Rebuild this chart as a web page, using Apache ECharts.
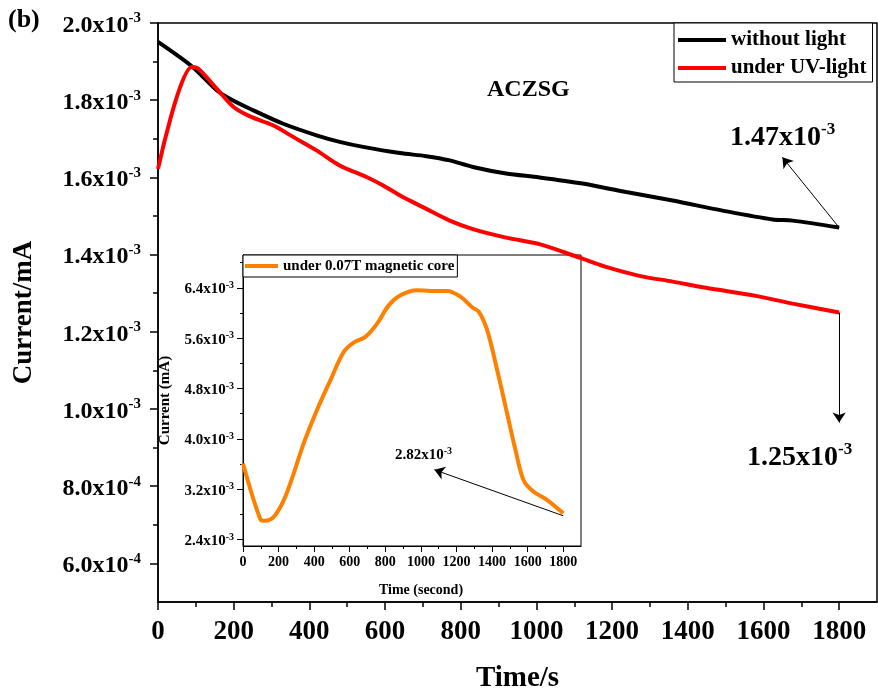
<!DOCTYPE html>
<html>
<head>
<meta charset="utf-8">
<script src="https://cdn.jsdelivr.net/npm/echarts@6/dist/echarts.min.js"></script>
<style>
  html, body { margin: 0; padding: 0; background: #fff; }
  #chart { width: 878px; height: 694px; }
</style>
</head>
<body>
<div id="chart"></div>
<script>
// Photocurrent of ACZSG versus time (s); current in mA.
const timeDark = [0, 89, 155, 190, 243, 331, 419, 480, 542, 639, 709, 771, 832, 920, 1008, 1122, 1237, 1360, 1492, 1624, 1677, 1800];
const currentDark = [1.951e-3, 1.888e-3, 1.826e-3, 1.804e-3, 1.778e-3, 1.739e-3, 1.709e-3, 1.692e-3, 1.679e-3, 1.663e-3, 1.655e-3,
  1.644e-3, 1.627e-3, 1.610e-3, 1.600e-3, 1.584e-3, 1.562e-3, 1.540e-3, 1.514e-3, 1.491e-3, 1.488e-3, 1.470e-3];

const timeUV = [0, 89, 106, 155, 199, 243, 304, 357, 419, 480, 551, 595, 647, 700, 771, 832, 920, 1008, 1114, 1184, 1272, 1360, 1448, 1580, 1677, 1800];
const currentUV = [1.622e-3, 1.886e-3, 1.882e-3, 1.830e-3, 1.783e-3, 1.758e-3, 1.735e-3, 1.705e-3, 1.670e-3, 1.631e-3, 1.601e-3,
  1.579e-3, 1.549e-3, 1.523e-3, 1.488e-3, 1.466e-3, 1.444e-3, 1.427e-3, 1.392e-3, 1.368e-3, 1.345e-3, 1.330e-3, 1.314e-3,
  1.293e-3, 1.273e-3, 1.250e-3];

// Inset: current under a 0.07 T magnetic core
const timeMag = [0, 97, 125, 172, 228, 285, 341, 416, 491, 566, 622, 688, 754, 819, 885, 979, 1053, 1147, 1222, 1288, 1325, 1372, 1429, 1485, 1532, 1578, 1634, 1710, 1800];
const currentMag = [3.61e-3, 2.73e-3, 2.70e-3, 2.76e-3, 3.02e-3, 3.45e-3, 3.93e-3, 4.46e-3, 4.93e-3, 5.38e-3, 5.53e-3, 5.62e-3,
  5.83e-3, 6.12e-3, 6.28e-3, 6.36e-3, 6.35e-3, 6.35e-3, 6.26e-3, 6.09e-3, 6.02e-3, 5.73e-3, 5.09e-3, 4.40e-3, 3.82e-3,
  3.34e-3, 3.16e-3, 3.03e-3, 2.82e-3];

// Axis ticks
const xTicks = [0, 200, 400, 600, 800, 1000, 1200, 1400, 1600, 1800];
const xMinorTicks = [100, 300, 500, 700, 900, 1100, 1300, 1500, 1700];
const mainYTicks = [0.6e-3, 0.8e-3, 1.0e-3, 1.2e-3, 1.4e-3, 1.6e-3, 1.8e-3, 2.0e-3];
const mainYMinorTicks = [0.7e-3, 0.9e-3, 1.1e-3, 1.3e-3, 1.5e-3, 1.7e-3, 1.9e-3];
const insetYTicks = [2.4e-3, 3.2e-3, 4.0e-3, 4.8e-3, 5.6e-3, 6.4e-3];
const insetYMinorTicks = [2.8e-3, 3.6e-3, 4.4e-3, 5.2e-3, 6.0e-3, 6.8e-3];

// Final values called out next to the curves
const endDark = currentDark[currentDark.length - 1];
const endUV = currentUV[currentUV.length - 1];
const endMag = currentMag[currentMag.length - 1];

const FONT = 'Liberation Serif';
const zip = (xs, ys) => xs.map((x, i) => [x, ys[i]]);

// "1.8x10^-3" style text, mantissa with given decimals
function sci(v, digits) {
  const e = Math.floor(Math.log10(Math.abs(v)) + 1e-9);
  const m = v / Math.pow(10, e);
  return { m: m.toFixed(digits), e: String(e) };
}
function sciRich(v, digits) {
  const s = sci(v, digits);
  return '{m|' + s.m + 'x10}{s|' + s.e + '}';
}
function richStyle(big, small, lift) {
  return {
    m: { fontSize: big, fontWeight: 'bold', fontFamily: FONT, color: '#000', lineHeight: big, padding: [lift, 0, 0, 0] },
    s: { fontSize: small, fontWeight: 'bold', fontFamily: FONT, color: '#000', lineHeight: small, verticalAlign: 'top' }
  };
}

const chart = echarts.init(document.getElementById('chart'), null, { renderer: 'canvas' });

const arrowLine = {
  silent: true,
  symbol: ['none', 'arrow'],
  symbolSize: 10,
  label: { show: false },
  lineStyle: { color: '#000', width: 1, type: 'solid' },
  emphasis: { disabled: true },
  animation: false
};

const plainNumber = v => String(Math.round(v));

const option = {
  animation: false,
  backgroundColor: '#fff',
  grid: [
    { left: 158, top: 23, right: 1, bottom: 92, show: true, borderColor: '#000', borderWidth: 1.5,
      backgroundColor: 'transparent', containLabel: false, outerBoundsMode: 'none' },
    { left: 243, top: 255, width: 338, height: 291, show: true, borderColor: '#000', borderWidth: 1,
      backgroundColor: '#fff', containLabel: false, outerBoundsMode: 'none' }
  ],
  xAxis: [
    {
      gridIndex: 0, type: 'value', min: 0, max: 1900, position: 'bottom',
      axisLine: { lineStyle: { color: '#000', width: 1.5 } },
      axisTick: { customValues: xTicks, length: 8, lineStyle: { color: '#000', width: 1.5 } },
      axisLabel: { customValues: xTicks, formatter: plainNumber, fontSize: 27, fontWeight: 'bold', fontFamily: FONT, color: '#000', margin: 17 },
      splitLine: { show: false },
      name: 'Time/s', nameLocation: 'middle', nameGap: 62,
      nameTextStyle: { fontSize: 29, fontWeight: 'bold', fontFamily: FONT, color: '#000' }
    },
    {
      gridIndex: 0, type: 'value', min: 0, max: 1900, position: 'bottom',
      axisLine: { show: false },
      axisTick: { customValues: xMinorTicks, length: 5, lineStyle: { color: '#000', width: 1.5 } },
      axisLabel: { show: false }, splitLine: { show: false }
    },
    {
      gridIndex: 1, type: 'value', min: 0, max: 1900, position: 'bottom',
      axisLine: { lineStyle: { color: '#000', width: 1 } },
      axisTick: { customValues: xTicks, length: 6, lineStyle: { color: '#000', width: 1 } },
      axisLabel: { customValues: xTicks, formatter: plainNumber, fontSize: 14, fontWeight: 'bold', fontFamily: FONT, color: '#000', margin: 9 },
      splitLine: { show: false },
      name: 'Time (second)', nameLocation: 'middle', nameGap: 37,
      nameTextStyle: { fontSize: 14, fontWeight: 'bold', fontFamily: FONT, color: '#000', padding: [0, 0, 0, 18] }
    },
    {
      gridIndex: 1, type: 'value', min: 0, max: 1900, position: 'bottom',
      axisLine: { show: false },
      axisTick: { customValues: xMinorTicks, length: 3, lineStyle: { color: '#000', width: 1 } },
      axisLabel: { show: false }, splitLine: { show: false }
    }
  ],
  yAxis: [
    {
      gridIndex: 0, type: 'value', min: 0.5e-3, max: 2.0e-3, position: 'left',
      axisLine: { lineStyle: { color: '#000', width: 1.5 } },
      axisTick: { customValues: mainYTicks, length: 8, lineStyle: { color: '#000', width: 1.5 } },
      axisLabel: {
        customValues: mainYTicks, margin: 17,
        formatter: v => sciRich(v, 1),
        rich: richStyle(24, 15, 5)
      },
      splitLine: { show: false },
      name: 'Current/mA', nameLocation: 'middle', nameGap: 120, nameRotate: 90,
      nameTextStyle: { fontSize: 27, fontWeight: 'bold', fontFamily: FONT, color: '#000' }
    },
    {
      gridIndex: 0, type: 'value', min: 0.5e-3, max: 2.0e-3, position: 'left',
      axisLine: { show: false },
      axisTick: { customValues: mainYMinorTicks, length: 5, lineStyle: { color: '#000', width: 1.5 } },
      axisLabel: { show: false }, splitLine: { show: false }
    },
    {
      gridIndex: 1, type: 'value', min: 2.3e-3, max: 6.92e-3, position: 'left',
      axisLine: { lineStyle: { color: '#000', width: 1 } },
      axisTick: { customValues: insetYTicks, length: 6, lineStyle: { color: '#000', width: 1 } },
      axisLabel: {
        customValues: insetYTicks, margin: 9,
        formatter: v => sciRich(v, 1),
        rich: richStyle(15, 10, 3)
      },
      splitLine: { show: false },
      name: 'Current (mA)', nameLocation: 'middle', nameGap: 70, nameRotate: 90,
      nameTextStyle: { fontSize: 15, fontWeight: 'bold', fontFamily: FONT, color: '#000' }
    },
    {
      gridIndex: 1, type: 'value', min: 2.3e-3, max: 6.92e-3, position: 'left',
      axisLine: { show: false },
      axisTick: { customValues: insetYMinorTicks, length: 3, lineStyle: { color: '#000', width: 1 } },
      axisLabel: { show: false }, splitLine: { show: false }
    }
  ],
  legend: [
    {
      data: ['without light', 'under UV-light'], orient: 'vertical', left: 674, top: 23,
      icon: 'rect', itemWidth: 48, itemHeight: 4, itemGap: 6, selectedMode: false,
      borderColor: '#000', borderWidth: 1, padding: [6, 6, 3, 4], backgroundColor: '#fff',
      textStyle: { fontSize: 21, fontWeight: 'bold', fontFamily: FONT, color: '#000', lineHeight: 22 }
    },
    {
      data: ['under 0.07T magnetic core'], orient: 'horizontal', left: 243, top: 255,
      icon: 'rect', itemWidth: 33, itemHeight: 4, selectedMode: false,
      borderColor: '#000', borderWidth: 1, padding: [3, 3, 3, 2], backgroundColor: '#fff',
      textStyle: { fontSize: 15, fontWeight: 'bold', fontFamily: FONT, color: '#000', lineHeight: 16 }
    }
  ],
  series: [
    {
      name: 'without light', type: 'line', xAxisIndex: 0, yAxisIndex: 0,
      data: zip(timeDark, currentDark), showSymbol: false, smooth: 0.3,
      color: '#000', lineStyle: { color: '#000', width: 4 },
      markLine: Object.assign({ data: [[{ coord: [1800, endDark] }, { coord: [1650, 1.652e-3] }]] }, arrowLine)
    },
    {
      name: 'under UV-light', type: 'line', xAxisIndex: 0, yAxisIndex: 0,
      data: zip(timeUV, currentUV), showSymbol: false, smooth: 0.3,
      color: '#ff0000', lineStyle: { color: '#ff0000', width: 4 },
      markLine: Object.assign({ data: [[{ coord: [1800, endUV] }, { coord: [1800, 0.965e-3] }]] }, arrowLine)
    },
    {
      name: 'under 0.07T magnetic core', type: 'line', xAxisIndex: 2, yAxisIndex: 2,
      data: zip(timeMag, currentMag), showSymbol: false, smooth: 0.35,
      color: '#ff8000', lineStyle: { color: '#ff8000', width: 4 },
      markLine: Object.assign({ data: [[{ coord: [1800, endMag - 0.04e-3] }, { coord: [1076, 3.51e-3] }]] }, arrowLine)
    }
  ],
  graphic: [
    { type: 'text', left: 8, top: 7, style: { text: '(b)', fontSize: 26, fontWeight: 'bold', fontFamily: FONT, fill: '#000' } },
    { type: 'text', left: 487, top: 78, style: { text: 'ACZSG', fontSize: 24, fontWeight: 'bold', fontFamily: FONT, fill: '#000' } },
    { type: 'text', x: 730, y: 135, style: { text: sciRich(endDark, 2), rich: richStyle(28, 17, 5), verticalAlign: 'middle', fill: '#000' } },
    { type: 'text', x: 747, y: 455, style: { text: sciRich(endUV, 2), rich: richStyle(28, 17, 5), verticalAlign: 'middle', fill: '#000' } },
    { type: 'text', x: 395, y: 454, style: { text: sciRich(endMag, 2), rich: richStyle(15, 10, 3), verticalAlign: 'middle', fill: '#000' } }
  ]
};

chart.setOption(option);
</script>
</body>
</html>
